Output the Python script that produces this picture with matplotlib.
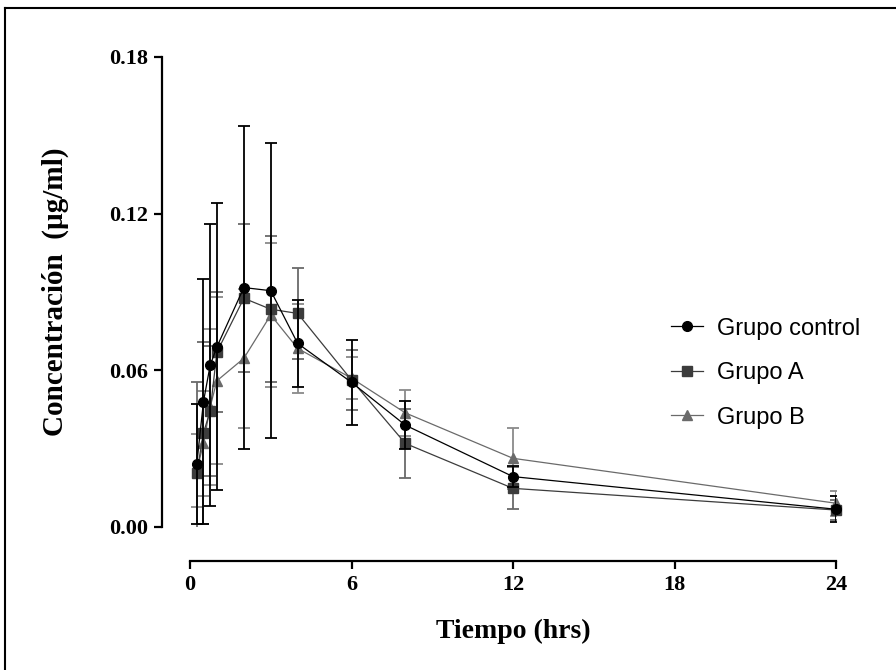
import matplotlib
matplotlib.use("Agg")
import matplotlib.pyplot as plt
from matplotlib.lines import Line2D

# ==========================================
# Data
# ==========================================
time = [0.25, 0.5, 0.75, 1, 2, 3, 4, 6, 8, 12, 24]

control = [0.024, 0.048, 0.062, 0.069, 0.0917, 0.0905, 0.0703, 0.0554, 0.039, 0.0193, 0.0068]
control_sd = [0.023, 0.047, 0.054, 0.055, 0.062, 0.0565, 0.0165, 0.0164, 0.0093, 0.004, 0.005]

grupo_a = [0.0206, 0.036, 0.0445, 0.067, 0.0876, 0.0834, 0.0818, 0.0563, 0.032, 0.0148, 0.0065]
grupo_a_sd = [0.035, 0.035, 0.025, 0.023, 0.0284, 0.028, 0.0173, 0.0115, 0.0133, 0.008, 0.004]

grupo_b = [0.0215, 0.032, 0.046, 0.056, 0.0646, 0.0812, 0.0684, 0.057, 0.0437, 0.0263, 0.0091]
grupo_b_sd = [0.014, 0.02, 0.03, 0.032, 0.0265, 0.0275, 0.017, 0.008, 0.0088, 0.0117, 0.0047]

labels = ["Grupo control", "Grupo A", "Grupo B"]
x_ticks = [0, 6, 12, 18, 24]
y_ticks = [0.00, 0.06, 0.12, 0.18]

# ==========================================
# Figure
# ==========================================
fig = plt.figure(figsize=(8.96, 6.70), dpi=100)
ax = fig.add_axes([190 / 896, 1 - 527 / 670, 646 / 896, 470 / 670])

serif = "Liberation Serif"

# series: (values, sd, marker, line color, err color, label)
series = [
    (grupo_b, grupo_b_sd, "^", "#6a6a6a", "#8a8a8a", labels[2]),
    (grupo_a, grupo_a_sd, "s", "#3c3c3c", "#6a6a6a", labels[1]),
    (control, control_sd, "o", "#000000", "#000000", labels[0]),
]

handles = {}
for vals, sd, mk, col, ecol, lab in series:
    ax.errorbar(time, vals, yerr=sd, fmt="none", ecolor=ecol,
                elinewidth=1.3, capsize=4.5, capthick=1.3)
    ln, = ax.plot(time, vals, marker=mk, color=col, markersize=7,
                  linewidth=0.9, clip_on=False, label=lab)
    handles[lab] = ln

ax.set_xlim(0, 24)
ax.set_ylim(0, 0.18)
ax.set_xticks(x_ticks)
ax.set_yticks(y_ticks)
ax.set_xticklabels([str(t) for t in x_ticks])
ax.set_yticklabels(["%.2f" % v for v in y_ticks])

for s in ["top", "right"]:
    ax.spines[s].set_visible(False)
ax.spines["left"].set_position(("outward", 20))
ax.spines["bottom"].set_position(("outward", 24.5))
for s in ["left", "bottom"]:
    ax.spines[s].set_linewidth(1.6)

ax.tick_params(axis="both", direction="out", length=6, width=1.6, pad=4)
for lbl in ax.get_xticklabels() + ax.get_yticklabels():
    lbl.set_fontfamily(serif)
    lbl.set_fontweight("bold")
    lbl.set_fontsize(16)

ax.set_xlabel("Tiempo (hrs)", fontfamily=serif, fontweight="bold", fontsize=20, labelpad=17)
ax.set_ylabel("Concentración  (µg/ml)", fontfamily=serif, fontweight="bold", fontsize=21, labelpad=29)

leg = fig.legend([handles[l] for l in labels], labels,
                 loc="center left", bbox_to_anchor=(0.749, 0.443),
                 frameon=False, fontsize=17, handlelength=1.35,
                 handletextpad=0.6, labelspacing=0.95, borderpad=0,
                 borderaxespad=0)
for t in leg.get_texts():
    t.set_fontfamily("Liberation Sans")

# outer frame (left and top edges visible in the picture)
fig.add_artist(Line2D([5 / 896, 5 / 896], [0, 1 - 8 / 670], transform=fig.transFigure,
                      color="black", linewidth=1.5))
fig.add_artist(Line2D([5 / 896, 1], [1 - 8 / 670, 1 - 8 / 670], transform=fig.transFigure,
                      color="black", linewidth=1.5))

fig.savefig("out.png", dpi=100)
